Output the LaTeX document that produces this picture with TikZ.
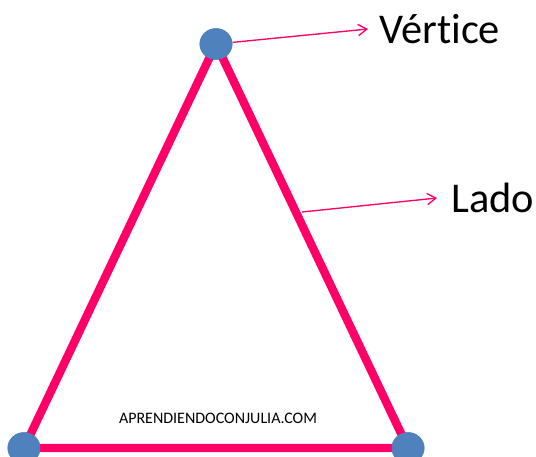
\documentclass[tikz,border=0pt]{standalone}
\usepackage{fontspec}
\setmainfont[Ligatures=NoCommon]{Carlito}
\usetikzlibrary{arrows.meta,shapes.geometric}
\definecolor{edgepink}{HTML}{FF0066}
\definecolor{dotblue}{HTML}{4F81BD}
\tikzset{
  px/.style={x=0.75pt,y=-0.75pt},
  side/.style={draw=edgepink,line width=6.3pt},
  vertexdot/.style={ellipse,fill=dotblue,minimum width=24.6pt,minimum height=23.6pt,inner sep=0pt},
  callout/.style={draw=edgepink,line width=1pt,-{Straight Barb[length=6.5pt,width=8.5pt]}},
  biglabel/.style={font=\fontsize{31.8pt}{33pt}\selectfont,text=black,anchor=west,inner sep=0pt},
  mark label/.style={font=\fontsize{12pt}{14pt}\selectfont,text=black,inner sep=0pt}
}
\begin{document}
\begin{tikzpicture}[px]
\useasboundingbox (0,0) rectangle (536,457);
\clip (0,0) rectangle (536,457);
\node[vertexdot] (top) at (216,44) {};
\node[vertexdot] (left) at (24,448) {};
\node[vertexdot] (right) at (408,448) {};
\draw[side] (top.center) -- (left.center) -- (right.center) -- cycle;
\node[vertexdot] at (top) {};
\node[vertexdot] at (left) {};
\node[vertexdot] at (right) {};
\coordinate (sidept) at (302,212);
\coordinate (vtip) at (368,29);
\coordinate (ltip) at (437,198);
\node[biglabel] (vlabel) at (379,29) {Vértice};
\node[biglabel] (llabel) at (451,198) {Lado};
\node[mark label] (wm) at (218,418) {APRENDIENDOCONJULIA.COM};
\draw[callout] (top) -- (vtip);
\draw[callout] (sidept) -- (ltip);
\end{tikzpicture}
\end{document}
